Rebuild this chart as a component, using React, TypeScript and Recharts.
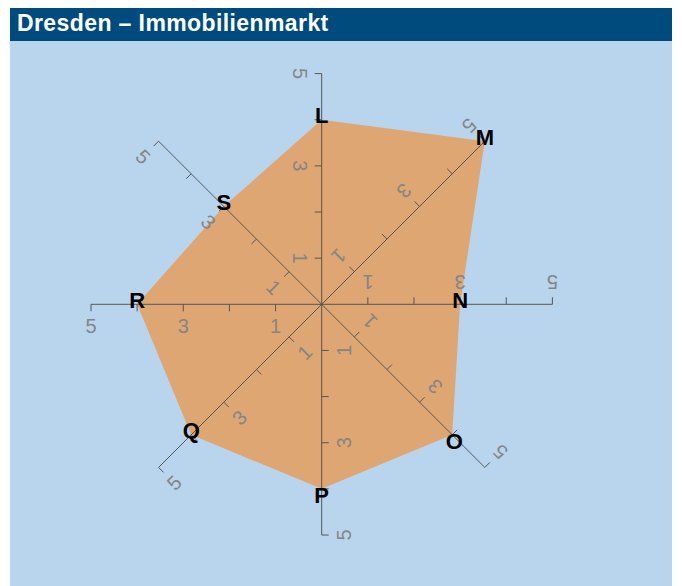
import React from "react";
import { RadarChart, Radar, PolarAngleAxis, PolarRadiusAxis } from "recharts";

const categories = ["L", "M", "N", "O", "P", "Q", "R", "S"];
const values = [4, 5, 3, 4, 4, 4, 4, 3];
const tickLabels = [1, 3, 5];

const data = categories.map((name, i) => ({ name, value: values[i] }));

// each category gets its own radius axis, clockwise from the top
const axisAngles = categories.map((_, i) => 90 - i * 45);

const AXIS = "#555555";
const FONT = "'Liberation Sans', Arial, sans-serif";

const makeTick = (angle: number) => (props: any) => {
  const { x, y, payload } = props;
  const v = payload?.value;
  if (!v) return <g />;
  const rad = (angle * Math.PI) / 180;
  const sx = -Math.sin(rad);
  const sy = -Math.cos(rad);
  const lx = x + sx * 22;
  const ly = y + sy * 22;
  return (
    <g>
      <line x1={x} y1={y} x2={x + sx * 7} y2={y + sy * 7} stroke={AXIS} strokeWidth={1} />
      {tickLabels.includes(v) && (
        <text
          x={lx}
          y={ly}
          transform={`rotate(${180 - angle}, ${lx}, ${ly})`}
          textAnchor="middle"
          dominantBaseline="central"
          fill="#858585"
          style={{ fontSize: 20 }}
          fontFamily={FONT}
        >
          {v}
        </text>
      )}
    </g>
  );
};

const VertexLabel = (props: any) => {
  const { cx, cy, index } = props;
  const a = axisAngles[index];
  // labels on the lower right side sit under the corner, the rest above it
  const below = a <= -45 && a >= -90;
  const dx = below ? Math.cos((a * Math.PI) / 180) * 3 : 0;
  const dy = below ? 7 : -4;
  return (
    <text
      key={`lbl-${index}`}
      x={cx + dx}
      y={cy + dy}
      textAnchor="middle"
      dominantBaseline="central"
      fill="#000"
      style={{ fontSize: 22, fontWeight: "bold" }}
      fontFamily={FONT}
    >
      {categories[index]}
    </text>
  );
};

export default function App() {
  return (
    <div
      style={{
        width: 662,
        height: 580,
        marginLeft: 2,
        marginTop: -2,
        background: "#b9d5ed",
        fontFamily: FONT,
      }}
    >
      <div
        style={{
          height: 35,
          lineHeight: "35px",
          background: "#004b7e",
          color: "#fff",
          fontWeight: "bold",
          fontSize: 23,
          letterSpacing: 0.4,
          paddingLeft: 7,
        }}
      >
        Dresden – Immobilienmarkt
      </div>
      <RadarChart
        width={662}
        height={545}
        data={data}
        cx={311.7}
        cy={263.3}
        outerRadius={230.7}
        startAngle={90}
        endAngle={-270}
        margin={{ top: 0, right: 0, bottom: 0, left: 0 }}
      >
        <PolarAngleAxis dataKey="name" tick={false} axisLine={false} />
        <Radar
          dataKey="value"
          fill="#dea672"
          fillOpacity={1}
          stroke="none"
          dot={VertexLabel}
          isAnimationActive={false}
        />
        {axisAngles.map((a, i) => (
          <PolarRadiusAxis
            key={i}
            angle={a}
            type="number"
            domain={[0, 5]}
            tickCount={6}
            stroke={AXIS}
            axisLine={{ stroke: AXIS, strokeWidth: 1 }}
            tick={makeTick(a)}
          />
        ))}
      </RadarChart>
    </div>
  );
}
